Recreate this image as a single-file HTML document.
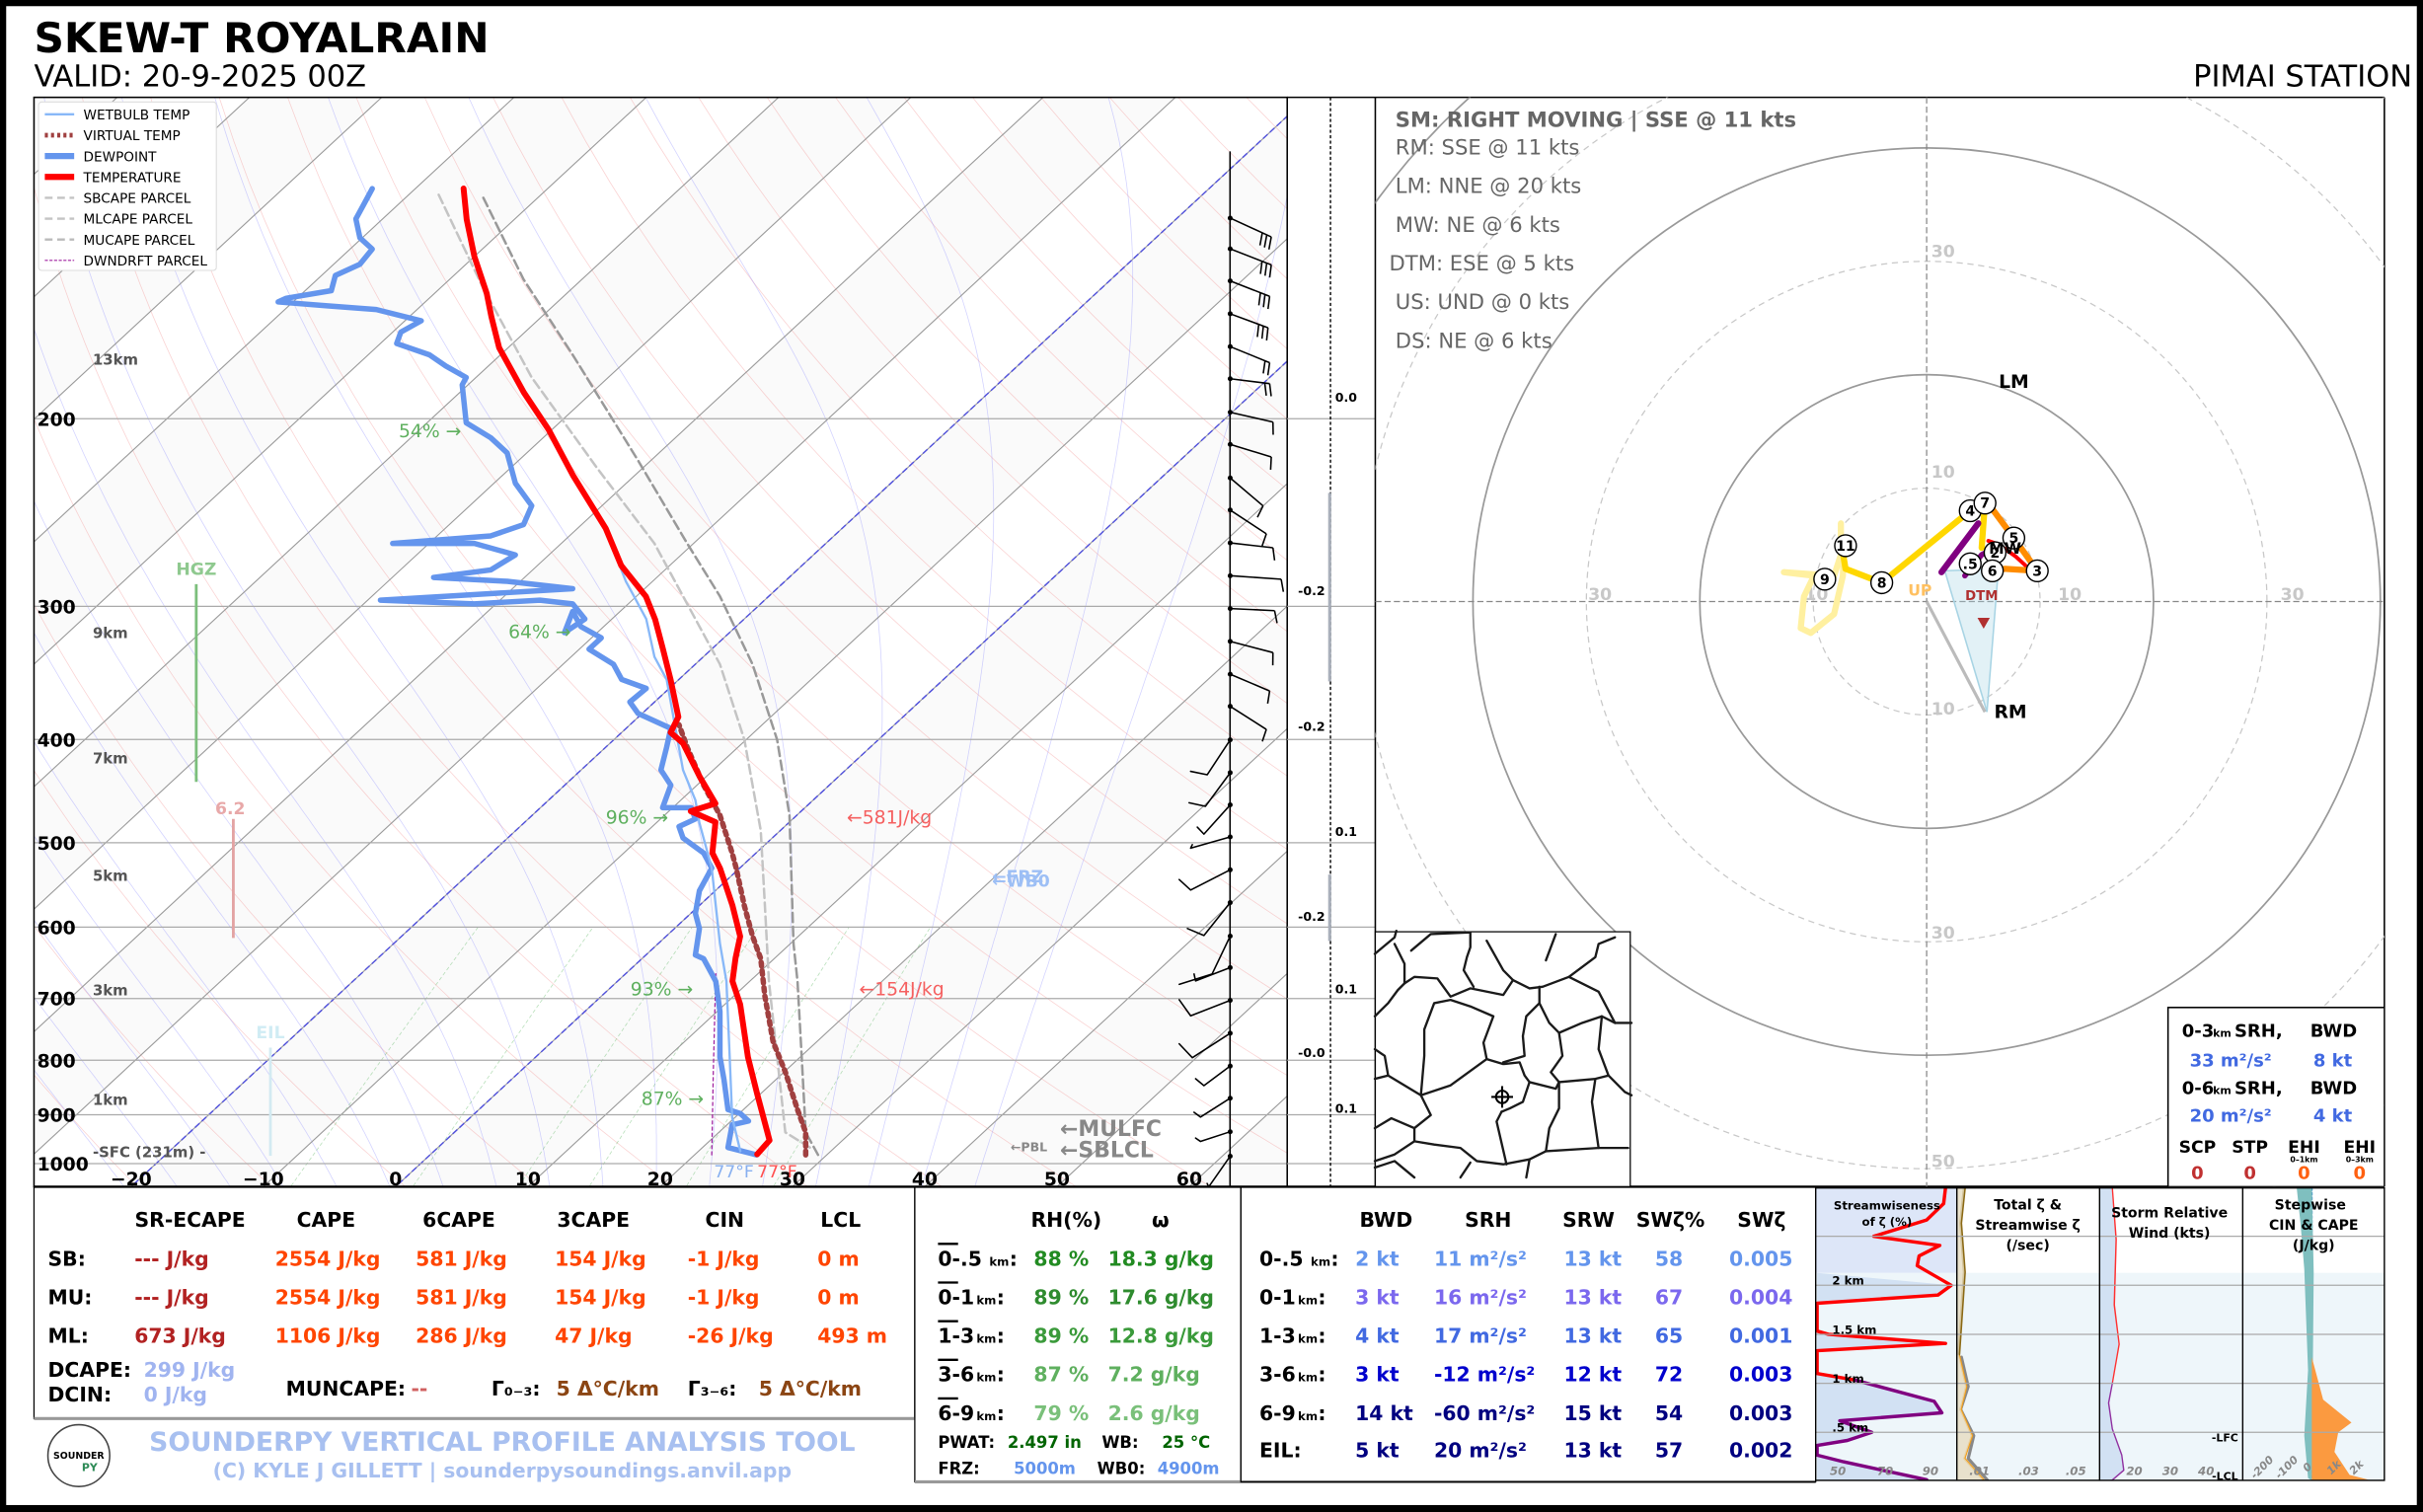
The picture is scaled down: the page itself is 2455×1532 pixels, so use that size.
<!DOCTYPE html>
<html><head><meta charset="utf-8"><style>
html,body{margin:0;padding:0;background:#000;overflow:hidden;}
svg{display:block;font-family:"DejaVu Sans","Liberation Sans",sans-serif;}
.b{font-weight:bold}
</style></head><body>
<svg id="s" xmlns="http://www.w3.org/2000/svg" width="2455" height="1532" viewBox="0 0 1568 978.5" preserveAspectRatio="none">
<defs>
<clipPath id="ck"><rect x="22" y="63" width="811" height="705"/></clipPath>
<clipPath id="ch"><rect x="890" y="63" width="653" height="705"/></clipPath>
<clipPath id="cm"><rect x="890" y="603" width="165" height="165"/></clipPath>
<clipPath id="cp"><rect x="1175" y="769" width="368" height="189"/></clipPath>
</defs>
<rect x="0" y="0" width="1568" height="978.5" fill="#000"/>
<rect x="4" y="4" width="1560" height="970" fill="#fff"/>
<text x="22" y="34" font-size="27" class="b">SKEW-T ROYALRAIN</text>
<text x="22" y="56" font-size="19.5">VALID: 20-9-2025 00Z</text>
<text x="1561" y="56" font-size="19.5" text-anchor="end">PIMAI STATION</text>

<g id="skew" clip-path="url(#ck)"></g>
<g id="prof" clip-path="url(#ck)"></g>
<g id="leg"></g>
<rect x="22" y="63" width="811" height="705" fill="none" stroke="#000" stroke-width="1"/>
<g id="barbs"></g>
<g id="col"></g>
<g id="hodo" clip-path="url(#ch)"></g>
<g id="map"></g>
<g id="tables"></g>
<g id="pan"></g>
</svg>
<script>
var NS="http://www.w3.org/2000/svg";
function el(par,tag,at,txt){var e=document.createElementNS(NS,tag);for(var k in at)e.setAttribute(k,at[k]);if(txt!==undefined)e.textContent=txt;document.getElementById(par).appendChild(e);return e;}
function pl(par,pts,at){at.points=pts.map(function(p){return p[0].toFixed(1)+","+p[1].toFixed(1)}).join(" ");if(!at.fill)at.fill="none";at["stroke-linejoin"]="round";at["stroke-linecap"]="round";return el(par,"polyline",at);}
function T(par,x,y,s,size,fill,extra){var a={x:x,y:y,"font-size":size,fill:fill||"#000"};for(var k in extra)a[k]=extra[k];return el(par,"text",a,s);}
var K=1.08;
function Y(p){return 753+299.5*Math.log(p/1000);}
function X(t,p){return 256+8.56*t+K*(768-Y(p));}
// bands
for(var t=-160;t<=60;t+=20){var ps=[[X(t,1060),Y(1060)],[X(t,95),Y(95)],[X(t+10,95),Y(95)],[X(t+10,1060),Y(1060)]];el("skew","polygon",{points:ps.map(function(p){return p.join(",")}).join(" "),fill:"#fafafa"});}
// dry adiabats
for(var th=240;th<=480;th+=10){var pts=[];for(var p=1060;p>=95;p-=10){pts.push([X(th*Math.pow(p/1000,0.2857)-273.15,p),Y(p)]);}pl("skew",pts,{stroke:"#f08080","stroke-width":0.5,opacity:0.35});}
// moist adiabats
function es(tc){return 6.112*Math.exp(17.67*tc/(tc+243.5));}
for(var t0=-20;t0<=44;t0+=4){var tk=t0+273.15,pts=[];for(var p=1060;p>=95;p-=5){pts.push([X(tk-273.15,p),Y(p)]);var tc=tk-273.15,e=es(tc),rs=0.622*e/(p-e);var dt=(287*tk+2.5e6*rs)/(1004+2.5e6*2.5e6*rs*0.622/(287*tk*tk))/p;tk-=dt*5;}pl("skew",pts,{stroke:"#8080ff","stroke-width":0.5,opacity:0.35});}
// mixing ratio
[2,4,7,10,16,24].forEach(function(w){var pts=[];for(var p=1060;p>=600;p-=20){var e=w/1000*p/(0.622+w/1000);var td=243.5*Math.log(e/6.112)/(17.67-Math.log(e/6.112));pts.push([X(td,p),Y(p)]);}pl("skew",pts,{stroke:"#4caf50","stroke-width":0.5,opacity:0.4,"stroke-dasharray":"2,2"});});
// isotherms
for(var t=-160;t<=70;t+=10){el("skew","line",{x1:X(t,1060),y1:Y(1060),x2:X(t,95),y2:Y(95),stroke:"#999","stroke-width":0.7});}
[-20,0].forEach(function(t){el("skew","line",{x1:X(t,1060),y1:Y(1060),x2:X(t,95),y2:Y(95),stroke:"#5050dd","stroke-width":0.9,"stroke-dasharray":"4,2"});});
// pressure lines
[200,300,400,500,600,700,800,900,1000].forEach(function(p){el("skew","line",{x1:22,y1:Y(p),x2:833,y2:Y(p),stroke:"#aaa","stroke-width":0.8});el("col","line",{x1:833,y1:Y(p),x2:890,y2:Y(p),stroke:"#aaa","stroke-width":0.8});T("col",24,Y(p)+4.5,String(p),12,"#000",{"font-weight":"bold"});});
// x labels
for(var t=-20;t<=60;t+=10){T("col",256+8.56*t,767,String(t).replace("-","\u2212"),12,"#000",{"font-weight":"bold","text-anchor":"middle"});}
function z1(a){return a.map(function(p){return [p[0]/1.889,p[1]/2.047];});}
// parcels
pl("prof",z1([[1000,1530],[985,1500],[980,1400],[975,1300],[970,1250],[965,1080],[950,980],[920,880],[880,790],[840,720],[780,610],[700,470],[640,370],[590,260]]),{stroke:"#999","stroke-width":1.6,"stroke-dasharray":"6,3"});
pl("prof",z1([[990,1520],[960,1500],[950,1400],[940,1300],[935,1200],[930,1100],[910,980],[880,880],[840,800],[800,720],[730,620],[650,500],[590,380],[535,255]]),{stroke:"#c4c4c4","stroke-width":1.6,"stroke-dasharray":"6,3"});
pl("prof",z1([[870,1530],[872,1420],[875,1290]]),{stroke:"#a020a0","stroke-width":0.8,"stroke-dasharray":"2,2"});
// virtual
pl("prof",z1([[985,1530],[985,1500],[975,1470],[960,1420],[945,1380],[935,1320],[930,1270],[920,1240],[910,1200],[900,1150],[895,1130],[880,1080],[860,1040],[840,990],[830,960]]),{stroke:"#a04040","stroke-width":3.5,"stroke-dasharray":"2.5,3"});
// dewpoint
pl("prof",z1([[925,1530],[890,1520],[895,1490],[915,1485],[905,1475],[890,1470],[885,1430],[880,1400],[880,1340],[875,1300],[870,1290],[860,1270],[850,1265],[855,1230],[850,1210],[855,1180],[870,1150],[860,1130],[835,1110],[830,1095],[850,1085],[845,1070],[810,1070],[820,1040],[808,1020],[815,990],[820,965],[780,945],[770,930],[790,912],[760,900],[750,880],[720,860],[735,845],[710,830],[700,810],[690,838],[715,820],[700,800],[660,795],[580,800],[465,795],[700,780],[620,770],[530,765],[600,755],[630,735],[580,720],[480,720],[600,710],[640,695],[650,670],[630,640],[620,600],[600,580],[570,560],[565,510],[570,500],[545,485],[525,470],[485,455],[490,440],[515,425],[460,410],[400,405],[340,400],[350,395],[405,385],[410,365],[440,350],[455,330],[440,315],[435,290],[445,270],[455,250]]),{stroke:"#6495ed","stroke-width":3.5});
// wetbulb
pl("prof",z1([[905,1525],[895,1480],[892,1400],[888,1300],[880,1250],[875,1200],[870,1150],[855,1090],[850,1060],[835,1020],[825,960],[815,900],[800,870],[790,820],[775,790],[765,770],[740,700],[720,660]]),{stroke:"#88b8f8","stroke-width":1.5});
// temperature
pl("prof",[[490,747],[498,738],[490,708],[484,684],[479,650],[474,635],[476,620],[479,606],[474,586],[466,562],[461,552],[463,532],[447,525],[463,520],[453,503],[442,481],[434,474],[439,464],[434,440],[429,420],[424,401],[418,386],[402,366],[392,342],[371,308],[355,278],[339,254],[323,225],[318,205],[315,190],[307,166],[302,142],[300,122]],{stroke:"#ff0000","stroke-width":3.8});
// legend
el("leg","rect",{x:25,y:66,width:115,height:109,fill:"#fff",stroke:"#ddd","stroke-width":0.7,rx:2});
var lg=[["WETBULB TEMP","#88b8f8",1.5,""],["VIRTUAL TEMP","#a04040",3,"2,2"],["DEWPOINT","#6495ed",4,""],["TEMPERATURE","#ff0000",4,""],["SBCAPE PARCEL","#c4c4c4",1.5,"5,3"],["MLCAPE PARCEL","#c4c4c4",1.5,"5,3"],["MUCAPE PARCEL","#bbb",1.5,"5,3"],["DWNDRFT PARCEL","#a020a0",0.7,"2,1"]];
lg.forEach(function(l,i){var y=74+i*13.5;el("leg","line",{x1:29,y1:y,x2:48,y2:y,stroke:l[1],"stroke-width":l[2],"stroke-dasharray":l[3]});T("leg",54,y+3.3,l[0],8.7,"#000");});
// annotations
var A=[["13km",60,236],["9km",60,413],["7km",60,494],["5km",60,570],["3km",60,644],["1km",60,715],["-SFC (231m) -",60,749]];
A.forEach(function(a){T("col",a[1],a[2],a[0],9.5,"#555",{"font-weight":"bold"});});
T("col",127,372,"HGZ",11,"#8fc98f",{"font-weight":"bold","text-anchor":"middle"});
el("col","line",{x1:127,y1:378,x2:127,y2:506,stroke:"#7cbf7c","stroke-width":1.8});
T("col",149,527,"6.2",11,"#e8a8a8",{"font-weight":"bold","text-anchor":"middle"});
el("col","line",{x1:151,y1:530,x2:151,y2:607,stroke:"#e3a3a3","stroke-width":1.8});
T("col",175,672,"EIL",11,"#d0ecf4",{"font-weight":"bold","text-anchor":"middle"});
el("col","line",{x1:175,y1:678,x2:175,y2:748,stroke:"#d3eaf2","stroke-width":1.8});
[["54% \u2192",258,283],["64% \u2192",329,413],["96% \u2192",392,533],["93% \u2192",408,644],["87% \u2192",415,715]].forEach(function(a){T("col",a[1],a[2],a[0],12,"#5fb05f");});
T("col",548,533,"\u2190581J/kg",12,"#f56060");T("col",556,644,"\u2190154J/kg",12,"#f56060");
T("col",642,571,"\u2190FRZ",11,"#9dbff5",{"font-weight":"bold"});T("col",642,574,"\u2190WB0",11,"#9dbff5",{"font-weight":"bold"});
T("col",686,735,"\u2190MULFC",14,"#888",{"font-weight":"bold"});T("col",686,749,"\u2190SBLCL",14,"#888",{"font-weight":"bold"});
T("col",654,745,"\u2190PBL",8,"#888",{"font-weight":"bold"});
T("col",462,762,"77\u00b0F",11,"#88b0f0");T("col",490,762,"77\u00b0F",11,"#ff5050");
// barbs column
function z5(zx,zy){return [(1180+zx/3)/1.566,(95+zy/1.4126)/1.566];}
el("barbs","line",{x1:796,y1:98,x2:796,y2:768,stroke:"#000","stroke-width":1});
var B=[[178,325,205,3],[222,325,245,3],[268,320,290,3],[315,315,335,3],[362,320,385,2],[408,320,415,2],[456,330,470,1],[502,325,520,1],[550,300,590,1],[596,310,630,1],[643,330,650,1],[690,355,695,1],[737,335,740,1],[784,330,800,1],[831,320,855,1],[877,310,910,1]];
B.forEach(function(b){var s=z5(200,b[0]),e=z5(b[1],b[2]);el("barbs","line",{x1:s[0],y1:s[1],x2:e[0],y2:e[1],stroke:"#000","stroke-width":1});var dx=e[0]-s[0],dy=e[1]-s[1],L=Math.hypot(dx,dy);dx/=L;dy/=L;for(var i=0;i<b[3];i++){var px=e[0]-dx*i*3.2,py=e[1]-dy*i*3.2;el("barbs","line",{x1:px,y1:py,x2:px-dy*8+dx*2,y2:py+dx*8+dy*2,stroke:"#000","stroke-width":1});}el("barbs","circle",{cx:s[0],cy:s[1],r:1.6,fill:"#000"});});
var B2=[[925,130,975,80,970],[972,125,1020,75,1015],[1018,120,1060,100,1050],[1064,80,1080,85,1075],[1111,80,1140,45,1125],[1158,120,1205,70,1195],[1206,145,1260,45,1275],[1251,95,1270,90,1260],[1298,80,1320,45,1297],[1345,85,1380,45,1360],[1392,120,1420,95,1410],[1438,110,1465,90,1458],[1486,110,1500,95,1495],[1521,135,1565,130,1560]];
B2.forEach(function(b){var s=z5(200,b[0]),e=z5(b[1],b[2]),f=z5(b[3],b[4]);pl("barbs",[s,e,f],{stroke:"#000","stroke-width":1});el("barbs","circle",{cx:s[0],cy:s[1],r:1.6,fill:"#000"});});
// narrow column
el("col","line",{x1:861,y1:63,x2:861,y2:768,stroke:"#000","stroke-width":0.9,"stroke-dasharray":"2,1.5"});
el("col","rect",{x:859.5,y:319,width:2,height:122,fill:"#aab0bb"});
el("col","rect",{x:859.5,y:566,width:2,height:43,fill:"#aab0bb"});
[["0.0",864,260],["-0.2",840,385],["-0.2",840,473],["0.1",864,541],["-0.2",840,596],["0.1",864,643],["-0.0",840,684],["0.1",864,720]].forEach(function(a){T("col",a[1],a[2],a[0],8,"#000",{"font-weight":"bold"});});
el("col","line",{x1:890,y1:63,x2:890,y2:768,stroke:"#000","stroke-width":1});
el("col","line",{x1:833,y1:63,x2:1543,y2:63,stroke:"#000","stroke-width":1});
el("col","line",{x1:1543,y1:63,x2:1543,y2:768,stroke:"#000","stroke-width":1});
el("col","line",{x1:22,y1:768,x2:1543,y2:768,stroke:"#000","stroke-width":1.5});
// hodograph
var cx=1246.8,cy=389.3,R=73.4;
for(var k=7;k>=1;k--){el("hodo","circle",{cx:cx,cy:cy,r:R*k,fill:"none",stroke:k%2?"#c8c8c8":"#999","stroke-width":k%2?0.8:1.1,"stroke-dasharray":k%2?"4,3":""});}
el("hodo","line",{x1:890,y1:cy,x2:1543,y2:cy,stroke:"#888","stroke-width":0.8,"stroke-dasharray":"4,2"});
el("hodo","line",{x1:cx,y1:63,x2:cx,y2:768,stroke:"#888","stroke-width":0.8,"stroke-dasharray":"4,2"});
[["10",cx,cy-80],["10",cx,cy+73],["30",cx,cy-223],["30",cx,cy+218],["50",cx,cy+366],["10",cx-82,cy-1],["10",cx+82,cy-1],["30",cx-222,cy-1],["30",cx+226,cy-1]].forEach(function(a){T("hodo",a[1]+3,a[2],a[0],11,"#c8c8c8",{"font-weight":"bold"});});
function z3(zx,zy){return [(1390+zx/1.472)/1.566,(95+zy/1.4126)/1.566];}
function Z3(a){return a.map(function(p){return z3(p[0],p[1]);});}
el("hodo","polygon",{points:Z3([[855,683],[935,680],[918,885]]).map(function(p){return p.join(",")}).join(" "),fill:"#add8e6","fill-opacity":0.35,stroke:"#a8d4e4","stroke-width":1});
pl("hodo",Z3([[700,615],[700,660],[690,690],[615,685],[660,690],[645,720],[640,765],[655,772],[690,745],[703,690],[705,640]]),{stroke:"#fff0a0","stroke-width":4});
pl("hodo",Z3([[700,640],[707,680],[761,700],[893,597],[915,586],[910,650]]),{stroke:"#ffd700","stroke-width":4});
pl("hodo",Z3([[890,590],[915,580],[958,636],[993,683],[945,680],[926,683]]),{stroke:"#ff8c00","stroke-width":4});
pl("hodo",Z3([[850,685],[905,615]]),{stroke:"#800080","stroke-width":4});
pl("hodo",Z3([[885,690],[910,660],[920,655]]),{stroke:"#800080","stroke-width":3.5});
pl("hodo",Z3([[920,640],[935,645],[960,662],[975,675]]),{stroke:"#ff0000","stroke-width":2.5});
var rm=z3(915,885),c0=z3(828,727);
el("hodo","line",{x1:c0[0],y1:c0[1],x2:rm[0],y2:rm[1],stroke:"#bbb","stroke-width":2});
[[893,597,"4"],[915,586,"7"],[958,636,"5"],[930,657,"2"],[893,673,".5"],[926,683,"6"],[993,683,"3"],[707,647,"11"],[676,695,"9"],[761,700,"8"]].forEach(function(a){var p=z3(a[0],a[1]);el("hodo","circle",{cx:p[0],cy:p[1],r:7,fill:"#fff",stroke:"#000","stroke-width":0.9});T("hodo",p[0],p[1]+3.2,a[2],9,"#000",{"text-anchor":"middle","font-weight":"bold"});});
var q=z3(945,652);T("hodo",q[0],q[1]+3,"MW",10,"#000",{"text-anchor":"middle","font-weight":"bold"});
q=z3(958,412);T("hodo",q[0],q[1]+4,"LM",12,"#000",{"text-anchor":"middle","font-weight":"bold"});
q=z3(953,885);T("hodo",q[0],q[1]+4,"RM",12,"#000",{"text-anchor":"middle","font-weight":"bold"});
q=z3(818,712);T("hodo",q[0],q[1]+3,"UP",10,"#ffc060",{"text-anchor":"middle","font-weight":"bold"});
q=z3(910,718);T("hodo",q[0],q[1]+3,"DTM",8.5,"#b03030",{"text-anchor":"middle","font-weight":"bold"});
q=z3(913,757);el("hodo","polygon",{points:(q[0]-4)+","+(q[1]-3)+" "+(q[0]+4)+","+(q[1]-3)+" "+q[0]+","+(q[1]+4),fill:"#b03030"});
T("hodo",903,82,"SM: RIGHT MOVING | SSE @ 11 kts",13.5,"#666",{"font-weight":"bold"});
[["RM: SSE @ 11 kts",903,100],["LM: NNE @ 20 kts",903,125],["MW: NE @ 6 kts",903,150],["DTM: ESE @ 5 kts",899,175],["US: UND @ 0 kts",903,200],["DS: NE @ 6 kts",903,225]].forEach(function(a){T("hodo",a[1],a[2],a[0],13.5,"#666");});
// SRH box
el("hodo","rect",{x:1403,y:652,width:140,height:116,fill:"#fff",stroke:"#000","stroke-width":1});
T("hodo",1412,671,"0-3",11.5,"#000",{"font-weight":"bold"});T("hodo",1432,671,"km",7,"#000",{"font-weight":"bold"});T("hodo",1446,671,"SRH,",11.5,"#000",{"font-weight":"bold"});T("hodo",1495,671,"BWD",11.5,"#000",{"font-weight":"bold"});
T("hodo",1417,690,"33 m\u00b2/s\u00b2",11.5,"#4169e1",{"font-weight":"bold"});T("hodo",1497,690,"8 kt",11.5,"#4169e1",{"font-weight":"bold"});
T("hodo",1412,708,"0-6",11.5,"#000",{"font-weight":"bold"});T("hodo",1432,708,"km",7,"#000",{"font-weight":"bold"});T("hodo",1446,708,"SRH,",11.5,"#000",{"font-weight":"bold"});T("hodo",1495,708,"BWD",11.5,"#000",{"font-weight":"bold"});
T("hodo",1417,726,"20 m\u00b2/s\u00b2",11.5,"#4169e1",{"font-weight":"bold"});T("hodo",1497,726,"4 kt",11.5,"#4169e1",{"font-weight":"bold"});
[["SCP",1422],["STP",1456],["EHI",1491],["EHI",1527]].forEach(function(a){T("hodo",a[1],746,a[0],11,"#000",{"font-weight":"bold","text-anchor":"middle"});});
T("hodo",1491,752,"0\u20131km",5,"#000",{"font-weight":"bold","text-anchor":"middle"});T("hodo",1527,752,"0\u20133km",5,"#000",{"font-weight":"bold","text-anchor":"middle"});
[["0",1422,"#c03030"],["0",1456,"#c03030"],["0",1491,"#ff6010"],["0",1527,"#ff6010"]].forEach(function(a){T("hodo",a[1],763,a[0],11.5,a[2],{"font-weight":"bold","text-anchor":"middle"});});
// map
el("map","rect",{x:890,y:603,width:165,height:165,fill:"#fff",stroke:"#000","stroke-width":0.8});
function z8(zx,zy){return [(1390+zx/3)/1.566,(930+zy/3)/1.566];}
var M=[[[10,110],[70,60],[75,40]],[[70,80],[100,140],[100,200],[130,180],[200,185],[240,240],[300,215],[400,235],[430,190],[480,215],[520,210],[600,180],[690,225],[740,320],[790,320]],[[120,100],[180,50],[300,45],[300,90],[290,120],[280,160],[310,210]],[[350,70],[400,160],[430,190]],[[530,130],[560,50]],[[600,180],[680,120],[690,80],[740,60]],[[10,300],[50,260],[80,220],[100,200]],[[190,260],[160,340],[160,420],[150,540],[240,510],[350,430],[340,380],[370,300],[300,270],[240,250],[190,260]],[[350,430],[400,445],[450,440],[465,480],[480,500],[460,560],[420,580],[395,590]],[[400,440],[465,420],[460,360],[470,300],[510,260],[510,210]],[[510,260],[540,320],[570,350],[580,420],[545,470],[570,500],[680,490],[720,480],[770,530],[790,540]],[[570,350],[640,320],[700,300],[740,320]],[[680,490],[670,560],[690,700],[530,710],[480,735],[400,750],[320,740],[270,700],[190,690],[130,680]],[[570,500],[570,580],[540,640],[530,710]],[[10,490],[50,480],[150,540],[180,600],[130,640],[130,680],[70,720],[10,740]],[[10,640],[60,610],[130,640]],[[395,590],[380,620],[410,750]],[[480,500],[560,520],[570,500]],[[700,300],[690,400],[720,480]],[[10,400],[40,420],[50,480]],[[10,760],[70,740],[130,790]],[[690,700],[780,700]],[[480,735],[470,790]],[[300,745],[270,790]]];
M.forEach(function(m){pl("map",m.map(function(p){return z8(p[0],p[1]);}),{stroke:"#1a1a1a","stroke-width":1.5});});
var mc=z8(397,545);el("map","circle",{cx:mc[0],cy:mc[1],r:4,fill:"none",stroke:"#000","stroke-width":1.3});
el("map","line",{x1:mc[0]-7,y1:mc[1],x2:mc[0]+7,y2:mc[1],stroke:"#000","stroke-width":1.3});el("map","line",{x1:mc[0],y1:mc[1]-7,x2:mc[0],y2:mc[1]+7,stroke:"#000","stroke-width":1.3});
// tables
function TB(x,y,s,c,anchor,size){return T("tables",x,y,s,size||13,c,{"font-weight":"bold","text-anchor":anchor||"start"});}
el("tables","rect",{x:22,y:768,width:570,height:150,fill:"none",stroke:"#000","stroke-width":0.8});
el("tables","line",{x1:22,y1:918,x2:592,y2:918,stroke:"#999","stroke-width":2});
[["SR-ECAPE",123],["CAPE",211],["6CAPE",297],["3CAPE",384],["CIN",469],["LCL",544]].forEach(function(h){TB(h[1],794,h[0],"#000","middle");});
var rows=[["SB:",819,"--- J/kg","2554 J/kg","581 J/kg","154 J/kg","-1 J/kg","0 m"],["MU:",844,"--- J/kg","2554 J/kg","581 J/kg","154 J/kg","-1 J/kg","0 m"],["ML:",869,"673 J/kg","1106 J/kg","286 J/kg","47 J/kg","-26 J/kg","493 m"]];
rows.forEach(function(r){TB(31,r[1],r[0],"#000");TB(87,r[1],r[2],"#b22222");TB(178,r[1],r[3],"#ff4500");TB(269,r[1],r[4],"#ff4500");TB(359,r[1],r[5],"#ff4500");TB(445,r[1],r[6],"#ff4500");TB(529,r[1],r[7],"#ff4500");});
TB(31,891,"DCAPE:","#000");TB(93,891,"299 J/kg","#a0b4f0");TB(31,907,"DCIN:","#000");TB(93,907,"0 J/kg","#a0b4f0");
TB(185,903,"MUNCAPE:","#000");TB(266,903,"--","#d06060");
TB(318,903,"\u0393\u2080\u208b\u2083:","#000");TB(360,903,"5 \u0394\u00b0C/km","#8b4513");TB(445,903,"\u0393\u2083\u208b\u2086:","#000");TB(491,903,"5 \u0394\u00b0C/km","#8b4513");
// logo
el("tables","ellipse",{cx:51,cy:942,rx:20,ry:20,fill:"#fff",stroke:"#444","stroke-width":1});
T("tables",51,944,"SOUNDER",6,"#000",{"text-anchor":"middle","font-weight":"bold"});T("tables",58,952,"PY",7,"#2e8b57",{"text-anchor":"middle","font-weight":"bold"});
TB(325,939,"SOUNDERPY VERTICAL PROFILE ANALYSIS TOOL","#a8c0f0","middle",17);
TB(325,956,"(C) KYLE J GILLETT | sounderpysoundings.anvil.app","#a8c0f0","middle",13);
// panel 2
el("tables","rect",{x:592,y:768,width:211,height:191,fill:"none",stroke:"#000","stroke-width":0.8});
el("tables","line",{x1:592,y1:959,x2:1175,y2:959,stroke:"#999","stroke-width":2});
TB(690,794,"RH(%)","#000","middle");TB(751,794,"\u03c9","#000","middle");
var r2=[["0-.5",819,"88 %","18.3 g/kg","#228b22"],["0-1",844,"89 %","17.6 g/kg","#2e8b2e"],["1-3",869,"89 %","12.8 g/kg","#3a9a3a"],["3-6",894,"87 %","7.2 g/kg","#5fb05f"],["6-9",919,"79 %","2.6 g/kg","#7ac07a"]];
r2.forEach(function(r){TB(607,r[1],r[0],"#000");var w=r[0].length*8.3;T("tables",607+w,r[1],"km",7.5,"#000",{"font-weight":"bold"});TB(607+w+13,r[1],":","#000");el("tables","line",{x1:607,y1:r[1]-14,x2:620,y2:r[1]-14,stroke:"#000","stroke-width":1.5});TB(669,r[1],r[2],r[4]);TB(717,r[1],r[3],r[4]);});
TB(607,937,"PWAT:","#000","start",10.5);TB(652,937,"2.497 in","#006400","start",10.5);TB(713,937,"WB:","#000","start",10.5);TB(752,937,"25 \u00b0C","#006400","start",10.5);
TB(607,954,"FRZ:","#000","start",10.5);TB(656,954,"5000m","#6495ed","start",10.5);TB(710,954,"WB0:","#000","start",10.5);TB(749,954,"4900m","#6495ed","start",10.5);
// panel 3
el("tables","rect",{x:803,y:768,width:372,height:191,fill:"none",stroke:"#000","stroke-width":0.8});
[["BWD",897],["SRH",963],["SRW",1028],["SW\u03b6%",1081],["SW\u03b6",1140]].forEach(function(h){TB(h[1],794,h[0],"#000","middle");});
var r3=[["0-.5",819,"2 kt","11 m\u00b2/s\u00b2","13 kt","58","0.005","#6495ed"],["0-1",844,"3 kt","16 m\u00b2/s\u00b2","13 kt","67","0.004","#7b68ee"],["1-3",869,"4 kt","17 m\u00b2/s\u00b2","13 kt","65","0.001","#4169e1"],["3-6",894,"3 kt","-12 m\u00b2/s\u00b2","12 kt","72","0.003","#0000cd"],["6-9",919,"14 kt","-60 m\u00b2/s\u00b2","15 kt","54","0.003","#000080"]];
r3.forEach(function(r){TB(815,r[1],r[0],"#000");var w=r[0].length*8.3;T("tables",815+w,r[1],"km",7.5,"#000",{"font-weight":"bold"});TB(815+w+13,r[1],":","#000");TB(877,r[1],r[2],r[7]);TB(928,r[1],r[3],r[7]);TB(1012,r[1],r[4],r[7]);TB(1071,r[1],r[5],r[7]);TB(1119,r[1],r[6],r[7]);});
TB(815,943,"EIL:","#000");TB(877,943,"5 kt","#000080");TB(928,943,"20 m\u00b2/s\u00b2","#000080");TB(1012,943,"13 kt","#000080");TB(1071,943,"57","#000080");TB(1119,943,"0.002","#000080");
// small panels
function z4(zx,zy){return [(1830+zx/2.613)/1.566,(1190+zy/3.02)/1.566];}
function Z4(a){return a.map(function(p){return z4(p[0],p[1]);});}
var topY=z4(0,42)[1],botY=z4(0,937)[1],midY=z4(0,302)[1];
el("pan","rect",{x:1175,y:topY,width:368,height:botY-topY,fill:"#fff"});
el("pan","rect",{x:1175,y:midY,width:368,height:botY-midY,fill:"#eef6fa"});
el("pan","rect",{x:1175,y:topY,width:z4(400,0)[0]-1175,height:midY-topY,fill:"#dde6f8"});
var red1=[[370,42],[365,90],[320,140],[180,190],[355,218],[300,250],[295,280],[385,340],[350,370],[30,395],[30,480],[60,490],[370,518],[30,540],[30,610],[130,630]];
var pur1=[[130,630],[340,695],[360,730],[90,755],[175,790],[110,815],[30,830],[30,860],[100,880],[320,935]];
el("pan","polygon",{points:Z4([[30,302]].concat(red1.slice(7),pur1,[[30,937]])).map(function(p){return p.join(",")}).join(" "),fill:"#d2e1f3"});
el("pan","g",{id:"pc"}).setAttribute("clip-path","url(#cp)");
pl("pc",Z4(red1),{stroke:"#ff0000","stroke-width":2.2});pl("pc",Z4(pur1),{stroke:"#800080","stroke-width":2.2});
var br=[[420,42],[410,150],[420,300],[405,550],[425,650],[410,720],[440,800],[420,870],[470,935]];
el("pan","polygon",{points:Z4([[400,42]].concat(br,[[400,937]])).map(function(p){return p.join(",")}).join(" "),fill:"#e6dcc0",opacity:0.8});
pl("pc",Z4([[412,560],[430,650],[410,720],[445,800],[430,870],[480,935]]),{stroke:"#888","stroke-width":2});
pl("pc",Z4(br),{stroke:"#f0a020","stroke-width":1.5});pl("pc",Z4([[420,42],[410,150],[420,300],[405,550]]),{stroke:"#8b6914","stroke-width":2});
var sr=[[810,42],[820,200],[815,400],[828,520],[810,640]],sp=[[810,640],[800,700],[810,780],[835,860],[840,905],[810,935]];
el("pan","polygon",{points:Z4([[778,42]].concat(sr,sp,[[778,937]])).map(function(p){return p.join(",")}).join(" "),fill:"#d2e1f3"});
pl("pc",Z4(sr),{stroke:"#ff3030","stroke-width":1.8});pl("pc",Z4(sp),{stroke:"#9030a0","stroke-width":1.8});
el("pan","polygon",{points:Z4([[1300,42],[1340,42],[1345,300],[1340,937],[1330,930],[1320,800],[1330,600],[1320,290],[1310,150]]).map(function(p){return p.join(",")}).join(" "),fill:"#7fbfbf"});
el("pan","polygon",{points:Z4([[1340,560],[1370,690],[1445,760],[1410,790],[1400,850],[1440,920],[1490,935],[1340,937]]).map(function(p){return p.join(",")}).join(" "),fill:"#fb9a40"});
pl("pc",Z4([[1340,42],[1340,937]]),{stroke:"#3a8fc8","stroke-width":1,"stroke-dasharray":"1.5,1.5"});
[190,340,490,640,790].forEach(function(zy){var p=z4(0,zy);el("pan","line",{x1:1175,y1:p[1],x2:1543,y2:p[1],stroke:"#aaa","stroke-width":0.8});});
[400,778,1157].forEach(function(zx){var p=z4(zx,0);el("pan","line",{x1:p[0],y1:topY,x2:p[0],y2:botY,stroke:"#000","stroke-width":0.9});});
el("pan","rect",{x:1175,y:topY,width:368,height:botY-topY,fill:"none",stroke:"#000","stroke-width":0.9});
function TP(zx,zy,s,size,c,ex){var p=z4(zx,zy);var a={"text-anchor":"middle","font-weight":"bold"};for(var k in ex)a[k]=ex[k];T("pan",p[0],p[1],s,size,c||"#000",a);}
TP(215,108,"Streamwiseness",7.5);TP(215,158,"of \u03b6 (%)",7.5);
TP(588,108,"Total \u03b6 &",9);TP(588,170,"Streamwise \u03b6",9);TP(588,232,"(/sec)",9);
TP(963,132,"Storm Relative",9);TP(963,194,"Wind (kts)",9);
TP(1336,108,"Stepwise",9);TP(1345,170,"CIN & CAPE",9);TP(1345,232,"(J/kg)",9);
[["2 km",338],["1.5 km",488],["1 km",638],[".5 km",788]].forEach(function(a){TP(70,a[1],a[0],7.5,"#000",{"text-anchor":"start"});});
TP(1110,818,"-LFC",7,"#000");TP(1110,935,"-LCL",7,"#000");
[["50",85],["70",210],["90",330],[".01",460],[".03",590],[".05",715],["20",870],["30",965],["40",1060]].forEach(function(a){TP(a[1],920,a[0],7.5,"#888",{"font-style":"italic"});});
[["-200",1215],["-100",1280],["0",1335],["1k",1405],["2k",1465]].forEach(function(a){var p=z4(a[1],905);T("pan",p[0],p[1],a[0],7,"#888",{"font-weight":"bold","font-style":"italic","text-anchor":"middle",transform:"rotate(-45 "+p[0]+" "+p[1]+")"});});
</script>
</body></html>
